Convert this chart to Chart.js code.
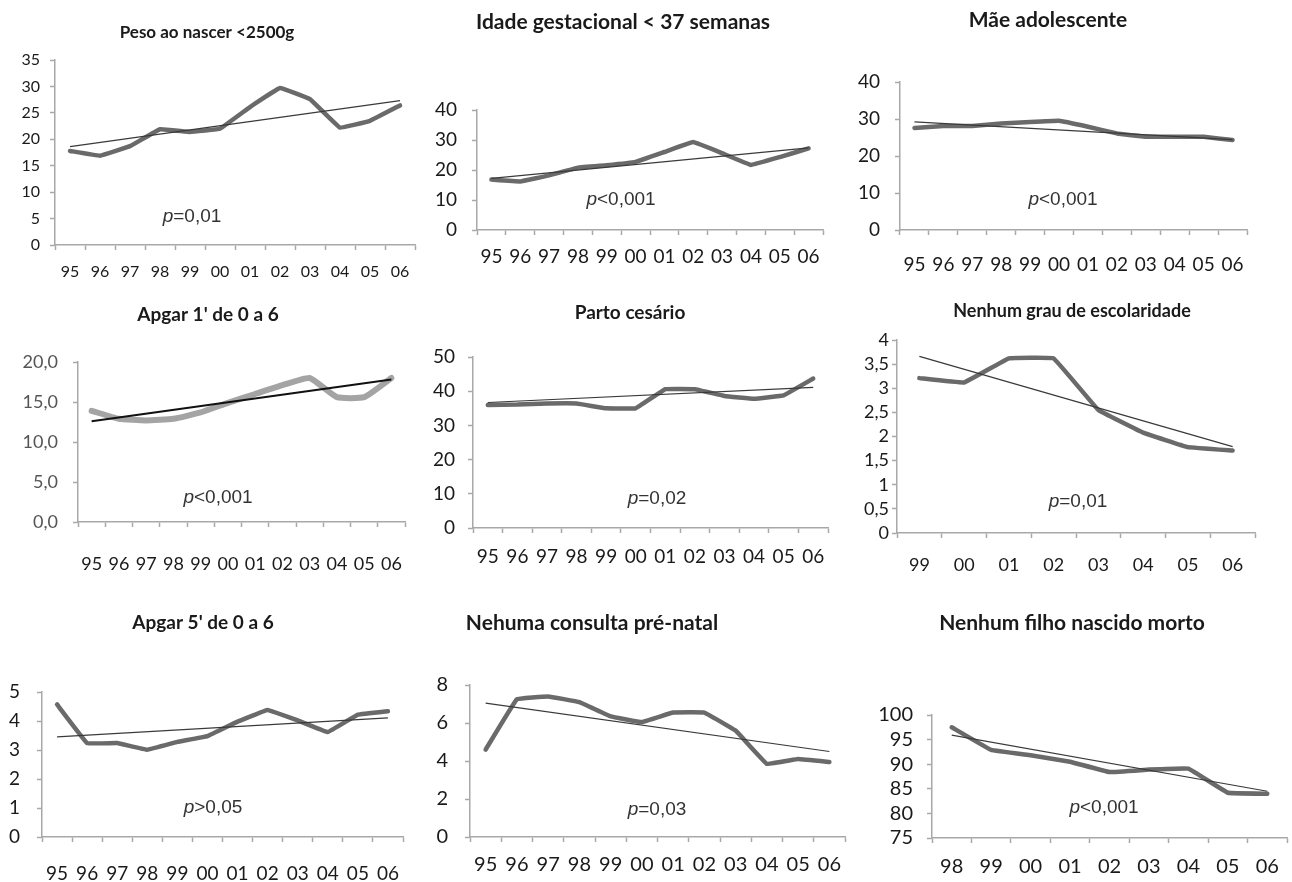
<!DOCTYPE html>
<html>
<head>
<meta charset="utf-8">
<script src="https://cdn.jsdelivr.net/npm/chart.js@4.4.1/dist/chart.umd.min.js"></script>
<style>
  html, body { margin: 0; padding: 0; background: #fff; }
  #wrap { position: relative; width: 1292px; height: 882px; overflow: hidden; }
  #wrap canvas { position: absolute; }
</style>
</head>
<body>
<div id="wrap"></div>
<script>
// ---- categories (anos) ----
const yrs95 = ['95', '96', '97', '98', '99', '00', '01', '02', '03', '04', '05', '06'];
const yrs99 = ['99', '00', '01', '02', '03', '04', '05', '06'];
const yrs98 = ['98', '99', '00', '01', '02', '03', '04', '05', '06'];

// ---- series + tendência (início, fim) ----
const pesoNascer = [17.8, 16.9, 18.7, 21.9, 21.4, 22.0, 26.1, 29.7, 27.6, 22.2, 23.5, 26.4];
const pesoNascerTrend = [18.6, 27.3];
const idadeGest = [16.8, 16.2, 18.2, 20.8, 21.6, 22.7, 26.0, 29.3, 25.6, 21.7, 24.3, 27.2];
const idadeGestTrend = [17.2, 27.4];
const maeAdolesc = [27.6, 28.1, 28.1, 28.8, 29.2, 29.5, 27.9, 26.1, 25.2, 25.2, 25.2, 24.3];
const maeAdolescTrend = [29.2, 24.4];
const apgar1 = [13.9, 12.9, 12.7, 12.9, 13.7, 14.9, 16.0, 17.1, 18.0, 15.6, 15.6, 18.0];
const apgar1Trend = [12.6, 17.8];
const partoCesario = [36.0, 36.1, 36.4, 36.4, 35.0, 35.0, 40.6, 40.6, 38.6, 37.8, 38.8, 43.7];
const partoCesarioTrend = [36.7, 41.1];
const semEscolaridade = [3.21, 3.12, 3.62, 3.62, 2.55, 2.08, 1.78, 1.71];
const semEscolaridadeTrend = [3.66, 1.79];
const apgar5 = [4.57, 3.24, 3.24, 3.01, 3.28, 3.48, 3.98, 4.38, 4.02, 3.62, 4.22, 4.34];
const apgar5Trend = [3.45, 4.11];
const semPreNatal = [4.6, 7.25, 7.4, 7.1, 6.35, 6.05, 6.55, 6.55, 5.6, 3.85, 4.1, 3.95];
const semPreNatalTrend = [7.05, 4.5];
const semNatimorto = [97.5, 92.9, 91.8, 90.5, 88.4, 88.9, 89.1, 84.2, 84.0];
const semNatimortoTrend = [95.9, 84.5];

// ---- eixos y: [min, max, passo] ----
const yPeso = [0, 35, 5];
const yIdade = [0, 40, 10];
const yMae = [0, 40, 10];
const yApgar1 = [0, 20, 5];
const yParto = [0, 50, 10];
const yEscol = [0, 4, 0.5];
const yApgar5 = [0, 5, 1];
const yPreNatal = [0, 8, 2];
const yNatimorto = [75, 100, 5];

// ---- painéis: célula, área do gráfico, textos ----
const panels = [
  { title: 'Peso ao nascer <2500g', p: '=0,01', labels: yrs95, data: pesoNascer, trend: pesoNascerTrend, y: yPeso,
    cell: [0, 0, 430, 290], plot: [55, 60, 415, 245], tPos: [207, 33, 17], pPos: [192, 217], tick: 16, yGap: 15, xDy: 25 },
  { title: 'Idade gestacional < 37 semanas', p: '<0,001', labels: yrs95, data: idadeGest, trend: idadeGestTrend, y: yIdade,
    cell: [428, 0, 432, 290], plot: [477, 110, 823, 230], tPos: [623, 22, 21], pPos: [621, 200], tick: 19, yGap: 20, xDy: 25 },
  { title: 'Mãe adolescente', p: '<0,001', labels: yrs95, data: maeAdolesc, trend: maeAdolescTrend, y: yMae,
    cell: [852, 0, 440, 290], plot: [900, 82, 1247, 230], tPos: [1048, 20, 21], pPos: [1063, 200], tick: 19, yGap: 20, xDy: 33 },
  { title: "Apgar 1' de 0 a 6", p: '<0,001', labels: yrs95, data: apgar1, trend: apgar1Trend, y: yApgar1, dec: 1,
    cell: [0, 290, 430, 300], plot: [78, 362, 405, 522], tPos: [208, 315, 19], pPos: [218, 498], tick: 18, yGap: 20, xDy: 40,
    color: '#a4a4a4', width: 6, trendColor: '#111', trendWidth: 2, tension: 0.15, yColor: '#555' },
  { title: 'Parto cesário', p: '=0,02', labels: yrs95, data: partoCesario, trend: partoCesarioTrend, y: yParto,
    cell: [428, 290, 432, 300], plot: [473, 357, 828, 528], tPos: [630, 313, 19], pPos: [657, 499], tick: 19, yGap: 18, xDy: 27 },
  { title: 'Nenhum grau de escolaridade', p: '=0,01', labels: yrs99, data: semEscolaridade, trend: semEscolaridadeTrend, y: yEscol,
    cell: [852, 290, 440, 300], plot: [897, 340, 1255, 533], tPos: [1072, 311, 18], pPos: [1078, 502], tick: 18, yGap: 8, xDy: 30 },
  { title: "Apgar 5' de 0 a 6", p: '>0,05', labels: yrs95, data: apgar5, trend: apgar5Trend, y: yApgar5,
    cell: [0, 590, 430, 292], plot: [42, 692, 403, 837], tPos: [203, 623, 19], pPos: [213, 808], tick: 19, yGap: 22, xDy: 35 },
  { title: 'Nehuma consulta pré-natal', p: '=0,03', labels: yrs95, data: semPreNatal, trend: semPreNatalTrend, y: yPreNatal,
    cell: [428, 590, 432, 292], plot: [470, 685, 845, 837], tPos: [592, 623, 21], pPos: [657, 810], tick: 20, yGap: 22, xDy: 26 },
  { title: 'Nenhum filho nascido morto', p: '<0,001', labels: yrs98, data: semNatimorto, trend: semNatimortoTrend, y: yNatimorto,
    cell: [852, 590, 440, 292], plot: [932, 715, 1287, 838], tPos: [1072, 623, 21], pPos: [1104, 808], tick: 20, yGap: 19, xDy: 27 },
];

// título e valor de p desenhados em coordenadas da página
const panelText = {
  id: 'panelText',
  afterDraw(chart, args, o) {
    const ctx = chart.ctx;
    ctx.save();
    ctx.fillStyle = '#1a1a1a';
    ctx.textBaseline = 'middle';
    ctx.textAlign = 'center';
    ctx.font = `bold ${o.tSize}px Lato`;
    ctx.fillText(o.title, o.tx, o.ty);
    // "p" em itálico + resto normal
    ctx.textAlign = 'left';
    const fp = 'italic 19px "Liberation Sans"', fr = '19px "Liberation Sans"';
    ctx.font = fp; const wp = ctx.measureText('p').width;
    ctx.font = fr; const wr = ctx.measureText(o.p).width;
    const x0 = o.px - (wp + wr) / 2;
    ctx.fillStyle = '#333';
    ctx.font = fp; ctx.fillText('p', x0, o.py);
    ctx.font = fr; ctx.fillText(o.p, x0 + wp, o.py);
    ctx.restore();
  }
};

const wrap = document.getElementById('wrap');

panels.forEach(pn => {
  const [cx, cy, cw, ch] = pn.cell;
  const [pl, pt, pr, pb] = pn.plot;
  const cv = document.createElement('canvas');
  cv.width = cw; cv.height = ch;
  cv.style.left = cx + 'px'; cv.style.top = cy + 'px';
  wrap.appendChild(cv);

  const n = pn.labels.length;
  const trendData = pn.labels.map((_, i) => i === 0 ? pn.trend[0] : (i === n - 1 ? pn.trend[1] : null));
  const tickLen = 5;
  const axisColor = '#a8a8a8';

  new Chart(cv, {
    type: 'line',
    data: {
      labels: pn.labels,
      datasets: [
        { data: trendData, spanGaps: true, borderColor: pn.trendColor || '#3a3a3a', borderWidth: pn.trendWidth || 1.2,
          pointRadius: 0, order: 0, tension: 0 },
        { data: pn.data, borderColor: pn.color || '#6a6a6a', borderWidth: pn.width || 4.5,
          pointRadius: 0, order: 1, tension: pn.tension || 0.05, borderJoinStyle: 'round', borderCapStyle: 'round' },
      ]
    },
    options: {
      responsive: false,
      animation: false,
      layout: { autoPadding: false, padding: { left: 0, bottom: 0, top: pt - cy, right: cx + cw - pr } },
      plugins: {
        legend: { display: false },
        tooltip: { enabled: false },
        title: { display: false },
        panelText: { title: pn.title, tx: pn.tPos[0] - cx, ty: pn.tPos[1] - cy, tSize: pn.tPos[2],
                     p: pn.p, px: pn.pPos[0] - cx, py: pn.pPos[1] - cy },
      },
      scales: {
        x: {
          offset: true,
          afterFit: s => { s.height = cy + ch - pb; },
          border: { color: axisColor, width: 1.5 },
          grid: { offset: true, drawOnChartArea: false, tickLength: tickLen, color: axisColor, tickWidth: 1.5 },
          ticks: { autoSkip: false, maxRotation: 0, color: '#1a1a1a', font: { family: 'Lato', size: pn.tick },
                   padding: Math.max(0, pn.xDy - tickLen - pn.tick * 0.5) },
        },
        y: {
          min: pn.y[0], max: pn.y[1],
          afterFit: s => { s.width = pl - cx; },
          border: { color: axisColor, width: 1.5 },
          grid: { drawOnChartArea: false, tickLength: tickLen, color: axisColor, tickWidth: 1.5 },
          ticks: { stepSize: pn.y[2], autoSkip: false, color: pn.yColor || '#1a1a1a', font: { family: 'Lato', size: pn.tick },
                   padding: Math.max(0, pn.yGap - tickLen),
                   callback: v => (pn.dec ? v.toFixed(pn.dec) : String(v)).replace('.', ',') },
        },
      },
    },
    plugins: [panelText],
  });
});
</script>
</body>
</html>
